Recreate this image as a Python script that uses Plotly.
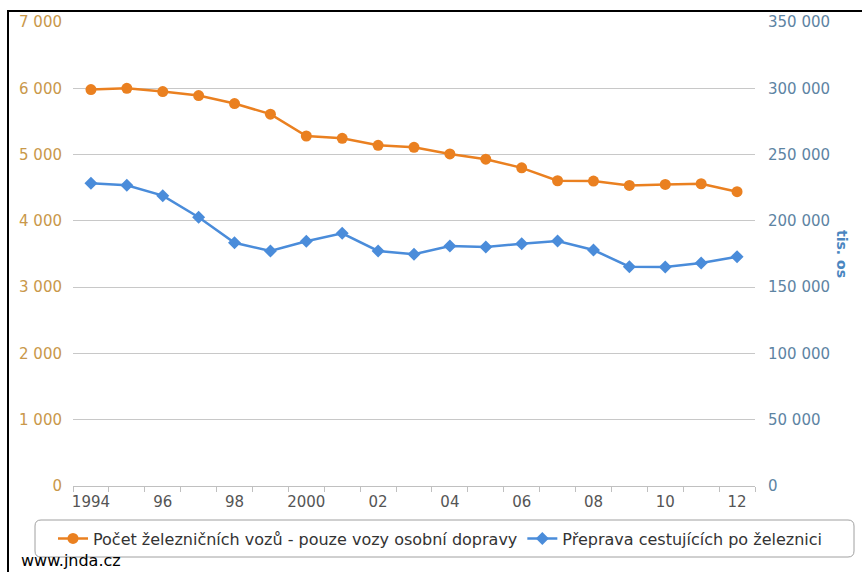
import plotly.graph_objects as go

# Years and the two series
years = list(range(1994, 2013))
vozy = [5980, 6000, 5950, 5890, 5770, 5610, 5280, 5245, 5140, 5110,
        5010, 4930, 4800, 4605, 4600, 4535, 4550, 4560, 4440]
cestujici = [228300, 226800, 219000, 202700, 183500, 177200, 184600, 190600, 177300, 174800,
             181000, 180300, 182800, 184800, 178000, 165400, 165200, 168200, 173000]

x_tickvals = list(range(1994, 2013, 2))
x_ticktext = ["1994", "96", "98", "2000", "02", "04", "06", "08", "10", "12"]
name_vozy = "Počet železničních vozů - pouze vozy osobní dopravy"
name_cest = "Přeprava cestujících po železnici"

ORANGE = "#EA8020"
BLUE = "#4A8CDA"
FONT = "DejaVu Sans"

# plot area in pixels
W, H = 862, 572
L, R, T, B = 73, 107, 22, 86
pw, ph = W - L - R, H - T - B


def px(xp):
    return (xp - L) / pw


def py(yp):
    return (H - B - yp) / ph


fig = go.Figure()
fig.add_trace(go.Scatter(
    x=years, y=vozy, name=name_vozy, mode="lines+markers",
    line=dict(color=ORANGE, width=2.5),
    marker=dict(symbol="circle", size=11, color=ORANGE),
    yaxis="y",
))
fig.add_trace(go.Scatter(
    x=years, y=cestujici, name=name_cest, mode="lines+markers",
    line=dict(color=BLUE, width=2.5),
    marker=dict(symbol="diamond", size=10, color=BLUE),
    yaxis="y2",
))

# rounded legend frame
x0, x1 = px(35), px(854)
y0, y1 = py(557), py(520)
rx = 6 / pw
ry = 6 / ph
path = (f"M {x0+rx},{y1} L {x1-rx},{y1} Q {x1},{y1} {x1},{y1-ry} "
        f"L {x1},{y0+ry} Q {x1},{y0} {x1-rx},{y0} L {x0+rx},{y0} "
        f"Q {x0},{y0} {x0},{y0+ry} L {x0},{y1-ry} Q {x0},{y1} {x0+rx},{y1} Z")

shapes = [
    dict(type="path", xref="paper", yref="paper", path=path,
         line=dict(color="#A0A0A0", width=1), fillcolor="rgba(0,0,0,0)", layer="below"),
    # black frame on the left and top
    dict(type="line", xref="paper", yref="paper", x0=px(8), x1=px(8), y0=py(575), y1=py(11),
         line=dict(color="black", width=2)),
    dict(type="line", xref="paper", yref="paper", x0=px(7), x1=px(870), y0=py(11), y1=py(11),
         line=dict(color="black", width=2)),
]

fig.update_layout(
    width=W, height=H,
    margin=dict(l=L, r=R, t=T, b=B, pad=0, autoexpand=False),
    paper_bgcolor="white", plot_bgcolor="white",
    separators=", ",
    font=dict(family=FONT, size=15, color="#444"),
    showlegend=True,
    legend=dict(
        orientation="h", x=px(827), xanchor="right", y=py(538.5), yanchor="middle",
        font=dict(family=FONT, size=16, color="#333"),
        bgcolor="rgba(0,0,0,0)", borderwidth=0,
    ),
    xaxis=dict(
        range=[1993.5, 2012.5], tickvals=x_tickvals, ticktext=x_ticktext,
        showgrid=False, zeroline=False, showline=True, linecolor="#C0C0C0", linewidth=1,
        ticks="", tickfont=dict(size=15, color="#555"), ticklabelstandoff=2,
        minor=dict(tick0=1993.5, dtick=1, ticks="outside", ticklen=5,
                   tickcolor="#C0C0C0", showgrid=False),
    ),
    yaxis=dict(
        range=[0, 7000], tickvals=list(range(0, 7001, 1000)), tickformat=",d",
        showgrid=True, gridcolor="#C8C8C8", gridwidth=1, zeroline=False,
        showline=False, ticks="", ticklabelstandoff=10,
        tickfont=dict(size=15, color="#C9984A"),
    ),
    yaxis2=dict(
        range=[0, 350000], tickvals=list(range(0, 350001, 50000)), tickformat=",d",
        overlaying="y", side="right", showgrid=False, zeroline=False,
        showline=False, ticks="", ticklabelstandoff=12,
        tickfont=dict(size=15, color="#5D84A3"),
    ),
    shapes=shapes,
    annotations=[
        dict(text="<b>tis. os</b>", xref="paper", yref="paper", x=px(852), y=py(254),
             showarrow=False, textangle=90, font=dict(family=FONT, size=14, color="#4A86C0")),
        dict(text="www.jnda.cz", xref="paper", yref="paper", x=px(19), y=py(572),
             xanchor="left", yanchor="bottom", showarrow=False,
             font=dict(family=FONT, size=16, color="black")),
    ],
)

fig.write_html("out.html")
